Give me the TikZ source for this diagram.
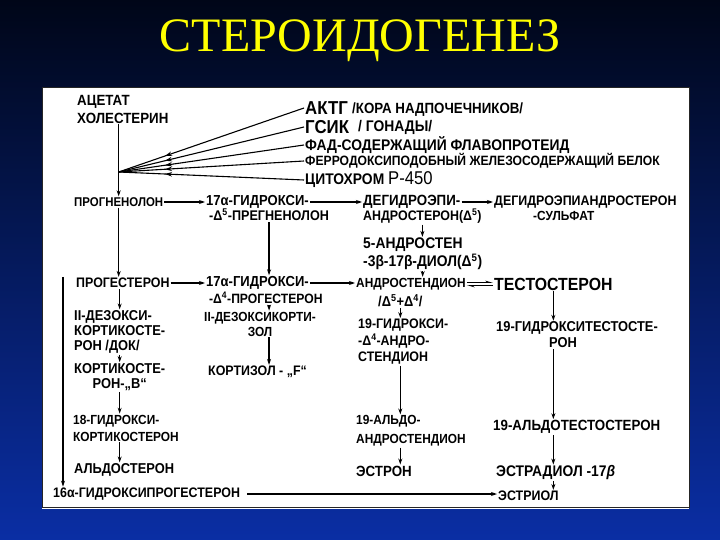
\documentclass[tikz,border=0pt]{standalone}
\usepackage{fontspec}
\setmainfont{Liberation Sans}[FakeStretch=0.9]
\newfontfamily\titlefont{Liberation Serif}
\usetikzlibrary{arrows.meta,decorations.markings}
\definecolor{bgtop}{RGB}{0,6,24}
\definecolor{bgmid}{RGB}{4,28,110}
\definecolor{bgbot}{RGB}{10,46,164}
\definecolor{ttl}{RGB}{255,255,0}
\newcommand{\fs}[2]{\fontsize{#1}{#2}\selectfont}
\tikzset{
  lbl/.style={anchor=west,inner sep=1pt,font=\bfseries\fs{13}{15}},
  flow/.style={line width=1.1pt,-{Stealth[length=6pt,width=4pt]}},
  feed/.style={line width=1.1pt,postaction={decorate},
    decoration={markings,mark=at position 0.75 with {\arrow{Stealth[length=7pt,width=4.5pt]}}}},
  eqarr/.style={line width=1pt,-{Stealth[harpoon,length=6pt,width=3.5pt]}}
}

\begin{document}
\begin{tikzpicture}[x=1pt,y=-1pt]
    \useasboundingbox (0,0) rectangle (720,540);
    \shade[top color=bgtop,middle color=bgmid,bottom color=bgbot] (0,0) rectangle (720,540);
    \node[text=ttl,font=\titlefont\fs{48}{48}] (title) at (360,41) {СТЕРОИДОГЕНЕЗ};
    % white sheet with the scheme
    \fill[white] (42,87) rectangle (689,509);
    \draw[black!85,line width=0.8pt] (42,87) rectangle (689,507);
    % cofactors, top right
    \node[lbl,font=\bfseries\fs{14.8}{18},align=left] (acet) at (76,109) {АЦЕТАТ\\ХОЛЕСТЕРИН};
    \node[lbl,font=\bfseries\fs{18.7}{18}] (aktg) at (304,108) {АКТГ};
    \node[lbl,font=\bfseries\fs{14.8}{15}] (kora) at (351,110) {/КОРА НАДПОЧЕЧНИКОВ/};
    \node[lbl,font=\bfseries\fs{18.7}{18}] (gsik) at (304,127) {ГСИК};
    \node[lbl,font=\bfseries\fs{15.4}{15}] (gonad) at (357,127) {/ ГОНАДЫ/};
    \node[lbl,font=\bfseries\fs{15.4}{15}] (fad) at (304,145) {ФАД-СОДЕРЖАЩИЙ ФЛАВОПРОТЕИД};
    \node[lbl,font=\bfseries\fs{13.5}{14}] (ferro) at (304,161) {ФЕРРОДОКСИПОДОБНЫЙ ЖЕЛЕЗОСОДЕРЖАЩИЙ БЕЛОК};
    \node[lbl,font=\bfseries\fs{15.4}{15}] (cyto) at (304,180) {ЦИТОХРОМ {\mdseries\fs{18.5}{18}Р-450}};
    % pregnenolone row
    \node[lbl,font=\bfseries\fs{12.7}{13}] (progn) at (73,202) {ПРОГНЕНОЛОН};
    \node[lbl,font=\bfseries\fs{14.5}{15}] (hpreg) at (205,202) {17α-ГИДРОКСИ-};
    \node[lbl,font=\bfseries\fs{14}{15}] (hpregb) at (208,215) {-Δ\textsuperscript{5}-ПРЕГНЕНОЛОН};
    \node[lbl,font=\bfseries\fs{14.8}{15}] (dhea) at (362,202) {ДЕГИДРОЭПИ-};
    \node[lbl,font=\bfseries\fs{13.8}{15}] (dheab) at (362,216) {АНДРОСТЕРОН(Δ\textsuperscript{5})};
    \node[lbl,font=\bfseries\fs{13.8}{15}] (dheas) at (493,202) {ДЕГИДРОЭПИАНДРОСТЕРОН};
    \node[lbl,font=\bfseries\fs{13.2}{15}] (dheasb) at (532,216) {-СУЛЬФАТ};
    \node[lbl,font=\bfseries\fs{15.4}{15}] (adiol) at (362,245) {5-АНДРОСТЕН};
    \node[lbl,font=\bfseries\fs{15.4}{15}] (adiolb) at (362,262) {-3β-17β-ДИОЛ(Δ\textsuperscript{5})};
    % progesterone row
    \node[lbl,font=\bfseries\fs{13.8}{15}] (proges) at (75,283) {ПРОГЕСТЕРОН};
    \node[lbl,font=\bfseries\fs{14.5}{15}] (hprog) at (205,283) {17α-ГИДРОКСИ-};
    \node[lbl,font=\bfseries\fs{13.5}{15}] (hprogb) at (208,298) {-Δ\textsuperscript{4}-ПРОГЕСТЕРОН};
    \node[lbl,font=\bfseries\fs{13.2}{15}] (adion) at (355,284) {АНДРОСТЕНДИОН};
    \node[lbl,font=\bfseries\fs{14.3}{15}] (adionb) at (377,301) {/Δ\textsuperscript{5}+Δ\textsuperscript{4}/};
    \node[lbl,font=\bfseries\fs{17.6}{16}] (testo) at (493,284) {ТЕСТОСТЕРОН};
    % corticoids
    \node[lbl,font=\bfseries\fs{14.3}{15},align=left] (doc) at (73,332) {II-ДЕЗОКСИ-\\КОРТИКОСТЕ-\\РОН /ДОК/};
    \node[lbl,font=\bfseries\fs{14.3}{15},align=center] (cort) at (73,377) {КОРТИКОСТЕ-\\РОН-„В“};
    \node[lbl,font=\bfseries\fs{13.2}{17},align=left] (hcort) at (72,428) {18-ГИДРОКСИ-\\КОРТИКОСТЕРОН};
    \node[lbl,font=\bfseries\fs{14.3}{15}] (aldo) at (73,470) {АЛЬДОСТЕРОН};
    \node[lbl,font=\bfseries\fs{13.8}{15}] (hp16) at (52,494) {16α-ГИДРОКСИПРОГЕСТЕРОН};
    \node[lbl,font=\bfseries\fs{13.2}{15},align=center] (dcortl) at (203,324) {II-ДЕЗОКСИКОРТИ-\\ЗОЛ};
    \node[lbl,font=\bfseries\fs{13.8}{15}] (cortisol) at (207,372) {КОРТИЗОЛ - „F“};
    % androgens and estrogens
    \node[lbl,font=\bfseries\fs{13.8}{16.5},align=left] (hadion) at (357,342) {19-ГИДРОКСИ-\\-Δ\textsuperscript{4}-АНДРО-\\СТЕНДИОН};
    \node[lbl,font=\bfseries\fs{14.3}{16},align=left] (htesto) at (495,335) {19-ГИДРОКСИТЕСТОСТЕ-\\\hspace*{53pt}РОН};
    \node[lbl,font=\bfseries\fs{13.2}{19},align=left] (aladion) at (355,431) {19-АЛЬДО-\\АНДРОСТЕНДИОН};
    \node[lbl,font=\bfseries\fs{14.8}{15}] (estron) at (355,471) {ЭСТРОН};
    \node[lbl,font=\bfseries\fs{14.8}{15}] (altesto) at (492,427) {19-АЛЬДОТЕСТОСТЕРОН};
    \node[lbl,font=\bfseries\fs{15.4}{15}] (estradiol) at (495,473) {ЭСТРАДИОЛ -17{\itshape β}};
    \node[lbl,font=\bfseries\fs{13.8}{15}] (estriol) at (497,496) {ЭСТРИОЛ};
    % cofactors feeding the side-chain cleavage
    \coordinate (conv) at (progn.north |- 0,172);
    \foreach \n in {aktg,gsik,fad,ferro,cyto}
      \draw[feed] (\n.west) -- (conv);
    \draw[flow] (acet.south -| progn.north) -- (progn.north);
    % horizontal steps
    \draw[flow] (progn.east) -- (hpreg.west);
    \draw[flow] (hpreg.east) -- (dhea.west);
    \draw[flow] (dhea.east) -- (dheas.west);
    \draw[flow] (proges.east) -- (hprog.west);
    \draw[flow] (hprog.east) -- (hprog.east -| adion.west);
    \draw[eqarr] ([yshift=1.6pt]adion.east) -- ([yshift=1.6pt]testo.west);
    \draw[eqarr] ([yshift=-1.6pt]testo.west) -- ([yshift=-1.6pt]adion.east);
    \draw[flow,shorten <=6pt] (hp16.east) -- (hp16.east -| estriol.west);
    % vertical steps
    \draw[flow] (progn.south) -- (progn.south |- proges.north);
    \draw[flow] (hpregb.south) -- (hpregb.south |- hprog.north);
    \draw[flow] (dheab.south) -- (dheab.south |- adiol.north);
    \draw[flow] (adiolb.south) -- (adiolb.south |- adion.north);
    \draw[flow] (doc.north |- proges.south) -- (doc.north);
    \draw[flow] (doc.south) -- (doc.south |- cort.north);
    \draw[flow] (cort.south) -- (cort.south |- hcort.north);
    \draw[flow] (cort.south |- hcort.south) -- (cort.south |- aldo.north);
    \coordinate (lft) at ([xshift=-12pt]proges.north west);
    \draw[flow] (lft) -- (lft |- hp16.north);
    \draw[flow] (hprogb.south -| hpregb.south) -- (dcortl.north -| hpregb.south);
    \draw[flow] (dcortl.south -| hpregb.south) -- (cortisol.north -| hpregb.south);
    \draw[flow] (adionb.south) -- (adionb.south |- hadion.north);
    \draw[flow] (hadion.south -| adionb.south) -- (aladion.north -| adionb.south);
    \draw[flow] (aladion.south -| adionb.south) -- (estron.north -| adionb.south);
    \draw[flow] (testo.south) -- (testo.south |- htesto.north);
    \draw[flow] (htesto.south -| testo.south) -- (altesto.north -| testo.south);
    \draw[flow] (altesto.south -| testo.south) -- (estradiol.north -| testo.south);
    \draw[flow] (estradiol.south -| testo.south) -- (estriol.north -| testo.south);
\end{tikzpicture}
\end{document}
